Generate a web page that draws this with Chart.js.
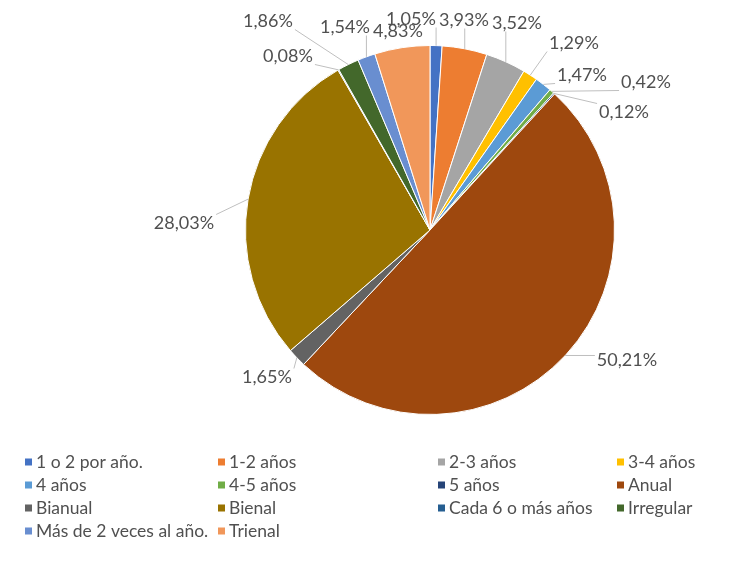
<!DOCTYPE html>
<html>
<head>
<meta charset="utf-8">
<script src="https://cdn.jsdelivr.net/npm/chart.js@4.4.1/dist/chart.umd.min.js"></script>
<style>
  html, body { margin: 0; padding: 0; background: #fff; }
  #wrap { width: 729px; height: 578px; position: relative; }
</style>
</head>
<body>
<div id="wrap"><canvas id="c" width="729" height="578"></canvas></div>
<script>
// Frecuencia de realización (porcentaje de casos)
const categories = [
  '1 o 2 por año.', '1-2 años', '2-3 años', '3-4 años', '4 años', '4-5 años', '5 años',
  'Anual', 'Bianual', 'Bienal', 'Cada 6 o más años', 'Irregular', 'Más de 2 veces al año.', 'Trienal'
];
const percentages = [1.05, 3.93, 3.52, 1.29, 1.47, 0.42, 0.12, 50.21, 1.65, 28.03, 0.08, 1.86, 1.54, 4.83];
const sliceColors = [
  '#4472C4', '#ED7D31', '#A5A5A5', '#FFC000', '#5B9BD5', '#70AD47', '#264478',
  '#9E480E', '#636363', '#997300', '#255E91', '#43682B', '#698ED0', '#F1975A'
];

// Where each data label sits (text centre), pushed apart so they do not collide
const labelPlacement = [
  [411, 19], [464, 20], [517, 23], [574, 43], [582, 75], [646, 82], [624, 112],
  [627, 360], [267, 377], [184, 223], [288, 56], [268, 21], [345, 27], [398, 31]
];

// Legend grid: 4 columns
const legendCols = [25, 218, 438, 617];
const legendTop = 462;
const legendRowGap = 23;

const FONT = 'Lato, "Open Sans", sans-serif';
const TEXT = '#505050';

const fmt = v => v.toFixed(2).replace('.', ',') + '%';

const labelPlugin = {
  id: 'outsideLabels',
  afterDatasetsDraw(chart) {
    const ctx = chart.ctx;
    const arcs = chart.getDatasetMeta(0).data;
    ctx.save();
    ctx.font = '18px ' + FONT;
    ctx.textAlign = 'center';
    ctx.textBaseline = 'middle';
    arcs.forEach((arc, i) => {
      const p = arc.getProps(['x', 'y', 'startAngle', 'endAngle', 'outerRadius'], true);
      const mid = (p.startAngle + p.endAngle) / 2;
      const ax = p.x + Math.cos(mid) * p.outerRadius;
      const ay = p.y + Math.sin(mid) * p.outerRadius;
      const [lx, ly] = labelPlacement[i];
      const text = fmt(percentages[i]);
      const w = ctx.measureText(text).width;
      const h = 15;
      // nearest point of the label box to the anchor
      const bx = Math.max(lx - w / 2 - 2, Math.min(ax, lx + w / 2 + 2));
      const by = Math.max(ly - h / 2 - 1, Math.min(ay, ly + h / 2 + 1));
      const d = Math.hypot(ax - bx, ay - by);
      if (d > 9) {
        ctx.strokeStyle = '#bfbfbf';
        ctx.lineWidth = 1;
        ctx.beginPath();
        ctx.moveTo(ax, ay);
        ctx.lineTo(bx, by);
        ctx.stroke();
      }
      ctx.fillStyle = TEXT;
      ctx.fillText(text, lx, ly);
    });
    ctx.restore();
  }
};

const gridLegend = {
  id: 'gridLegend',
  afterDraw(chart) {
    const ctx = chart.ctx;
    const ds = chart.data.datasets[0];
    ctx.save();
    ctx.font = '17.5px ' + FONT;
    ctx.textAlign = 'left';
    ctx.textBaseline = 'middle';
    chart.data.labels.forEach((lab, i) => {
      const col = i % legendCols.length;
      const row = Math.floor(i / legendCols.length);
      const x = legendCols[col];
      const y = legendTop + row * legendRowGap;
      ctx.fillStyle = ds.backgroundColor[i];
      ctx.fillRect(x, y - 3.5, 7, 7);
      ctx.fillStyle = TEXT;
      ctx.fillText(lab, x + 11, y);
    });
    ctx.restore();
  }
};

new Chart(document.getElementById('c'), {
  type: 'pie',
  data: {
    labels: categories,
    datasets: [{
      data: percentages,
      backgroundColor: sliceColors,
      borderColor: '#ffffff',
      borderWidth: 1
    }]
  },
  options: {
    responsive: false,
    animation: false,
    layout: { padding: { left: 245, right: 114, top: 45, bottom: 163 } },
    plugins: {
      legend: { display: false },
      tooltip: { enabled: false }
    }
  },
  plugins: [labelPlugin, gridLegend]
});
</script>
</body>
</html>
